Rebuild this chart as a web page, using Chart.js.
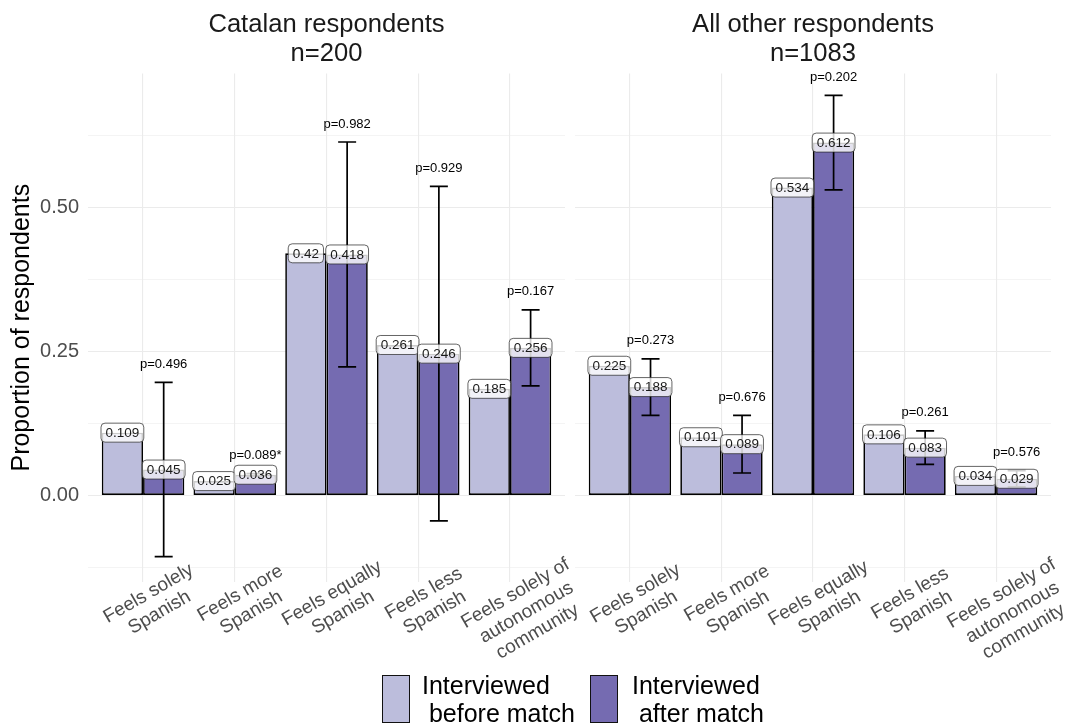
<!DOCTYPE html>
<html>
<head>
<meta charset="utf-8">
<script src="https://cdn.jsdelivr.net/npm/chart.js@4.4.1/dist/chart.umd.min.js"></script>
<style>
  html, body { margin: 0; padding: 0; background: #fff; }
  #wrap { position: relative; width: 1065px; height: 726px; overflow: hidden;
          font-family: "Liberation Sans", Arial, Helvetica, sans-serif; }
  canvas { position: absolute; top: 0; }
  #c1 { left: 0; }
  #c2 { left: 570px; }
  .key { position: absolute; top: 675px; width: 28px; height: 48px;
         box-sizing: border-box; border: 1.6px solid #111; }
  .lab { position: absolute; top: 671px; font-size: 25px; line-height: 28px;
         color: #000; white-space: pre; }
</style>
</head>
<body>
<div id="wrap">
  <canvas id="c1" width="630" height="726"></canvas>
  <canvas id="c2" width="495" height="726"></canvas>
  <div id="legend"></div>
</div>
<script>
// Identity categories (x axis) and panel headings
const categories = [
  ['Feels solely', 'Spanish'],
  ['Feels more', 'Spanish'],
  ['Feels equally', 'Spanish'],
  ['Feels less', 'Spanish'],
  ['Feels solely of', 'autonomous', 'community']
];
const panelTitles = [['Catalan respondents', 'n=200'], ['All other respondents', 'n=1083']];
const seriesNames = [['Interviewed', ' before match'], ['Interviewed', ' after match']];
const seriesColors = ['#bcbddc', '#756bb1'];

// Catalan respondents
const catalanBefore = [0.109, 0.025, 0.42, 0.261, 0.185];
const catalanAfter  = [0.045, 0.036, 0.418, 0.246, 0.256];
const catalanLow    = [-0.106, 0.034, 0.223, -0.044, 0.190];
const catalanHigh   = [0.196, 0.038, 0.613, 0.536, 0.322];
const catalanP      = ['p=0.496', 'p=0.089*', 'p=0.982', 'p=0.929', 'p=0.167'];

// All other respondents
const otherBefore = [0.225, 0.101, 0.534, 0.106, 0.034];
const otherAfter  = [0.188, 0.089, 0.612, 0.083, 0.029];
const otherLow    = [0.139, 0.039, 0.530, 0.054, 0.015];
const otherHigh   = [0.237, 0.139, 0.694, 0.112, 0.043];
const otherP      = ['p=0.273', 'p=0.676', 'p=0.202', 'p=0.261', 'p=0.576'];

// Y axis: labelled ticks and range
const yTicksMajor = [0, 0.25, 0.5];
const yMin = -0.15, yMax = 0.732;

const FONT = '"Liberation Sans", Arial, Helvetica, sans-serif';
Chart.defaults.font.family = FONT;

const isMajor = v => yTicksMajor.some(t => Math.abs(t - v) < 1e-9);

function roundRectPath(ctx, x, y, w, h, r) {
  ctx.beginPath();
  ctx.moveTo(x + r, y);
  ctx.lineTo(x + w - r, y);
  ctx.arcTo(x + w, y, x + w, y + r, r);
  ctx.lineTo(x + w, y + h - r);
  ctx.arcTo(x + w, y + h, x + w - r, y + h, r);
  ctx.lineTo(x + r, y + h);
  ctx.arcTo(x, y + h, x, y + h - r, r);
  ctx.lineTo(x, y + r);
  ctx.arcTo(x, y, x + r, y, r);
  ctx.closePath();
}

// Error bars, value labels and p-values drawn on top of the bars
const overlayPlugin = {
  id: 'overlay',
  afterDatasetsDraw(chart, args, opts) {
    const ctx = chart.ctx;
    const y = chart.scales.y;
    const metas = [chart.getDatasetMeta(0), chart.getDatasetMeta(1)];
    const values = [chart.data.datasets[0].data, chart.data.datasets[1].data];
    ctx.save();

    // confidence intervals on the after-match bars
    ctx.strokeStyle = '#000';
    ctx.lineWidth = 1.7;
    metas[1].data.forEach((bar, i) => {
      const x = bar.x;
      const yl = y.getPixelForValue(opts.low[i]);
      const yh = y.getPixelForValue(opts.high[i]);
      ctx.beginPath();
      ctx.moveTo(x, yl); ctx.lineTo(x, yh);
      ctx.moveTo(x - 9, yl); ctx.lineTo(x + 9, yl);
      ctx.moveTo(x - 9, yh); ctx.lineTo(x + 9, yh);
      ctx.stroke();
    });

    // value labels centred on each bar top
    ctx.font = '13.5px ' + FONT;
    ctx.textAlign = 'center';
    ctx.textBaseline = 'middle';
    for (let i = 0; i < categories.length; i++) {
      for (let s = 0; s < 2; s++) {
        const bar = metas[s].data[i];
        const v = values[s][i];
        const txt = String(v);
        const w = ctx.measureText(txt).width + 9;
        const h = 19;
        const cy = y.getPixelForValue(v);
        roundRectPath(ctx, bar.x - w / 2, cy - h / 2, w, h, 4);
        ctx.fillStyle = 'rgba(255,255,255,0.8)';
        ctx.fill();
        ctx.lineWidth = 0.7;
        ctx.strokeStyle = '#222';
        ctx.stroke();
        ctx.fillStyle = '#1a1a1a';
        ctx.fillText(txt, bar.x, cy + 0.5);
      }
    }

    // p-values above the upper whisker
    ctx.font = '13px ' + FONT;
    ctx.fillStyle = '#000';
    metas[1].data.forEach((bar, i) => {
      const yh = y.getPixelForValue(opts.high[i]);
      ctx.fillText(opts.p[i], bar.x, yh - 18);
    });
    ctx.restore();
  }
};

// Category names under the x axis, tilted 30 degrees, lines centred
const xLabelPlugin = {
  id: 'xlabels',
  afterDraw(chart) {
    const ctx = chart.ctx;
    const x = chart.scales.x;
    const ang = -Math.PI / 6;
    const lh = 22;
    const px = -Math.sin(ang), py = Math.cos(ang); // downward normal of the text
    ctx.save();
    ctx.font = '19px ' + FONT;
    ctx.fillStyle = '#4d4d4d';
    ctx.textAlign = 'center';
    ctx.textBaseline = 'middle';
    x.ticks.forEach((t, i) => {
      const ax = x.getPixelForTick(i);
      const ay = chart.chartArea.bottom + 2;
      const lines = [].concat(chart.data.labels[i]);
      lines.forEach((line, k) => {
        const d = (k + 0.5) * lh;
        ctx.save();
        ctx.translate(ax + px * d, ay + py * d);
        ctx.rotate(ang);
        ctx.fillText(line, 0, 0);
        ctx.restore();
      });
    });
    ctx.restore();
  }
};

function makePanel(id, title, before, after, low, high, pvals, first) {
  return new Chart(document.getElementById(id), {
    type: 'bar',
    data: {
      labels: categories,
      datasets: [
        { label: seriesNames[0].join(''), data: before, backgroundColor: seriesColors[0],
          borderColor: '#000', borderWidth: 1.7, borderSkipped: false,
          categoryPercentage: 0.9, barPercentage: 1.0 },
        { label: seriesNames[1].join(''), data: after, backgroundColor: seriesColors[1],
          borderColor: '#000', borderWidth: 1.7, borderSkipped: false,
          categoryPercentage: 0.9, barPercentage: 1.0 }
      ]
    },
    options: {
      responsive: false,
      animation: false,
      events: [],
      // left canvas is wider than its panel so tilted labels can run past the panel edge
      layout: { padding: first ? { left: 0, right: 65, top: 0, bottom: 0 }
                               : { left: 5, right: 14, top: 0, bottom: 0 } },
      plugins: {
        legend: { display: false },
        tooltip: { enabled: false },
        title: {
          display: true, text: title, fullSize: false,
          font: { size: 25.6, weight: 'normal', lineHeight: 1.15 },
          color: '#1a1a1a', padding: { top: 10, bottom: 4.5 }
        },
        overlay: { low: low, high: high, p: pvals }
      },
      scales: {
        x: {
          type: 'category',
          offset: true,
          grid: { offset: false, drawTicks: false, color: '#ebebeb', lineWidth: 1.1 },
          border: { display: false },
          ticks: { display: false, autoSkip: false },
          // discrete axis with 0.6 of a category of space at either end
          afterBuildTicks(s) { s._startValue = -0.6; s._valueRange = categories.length + 0.2; },
          afterFit(s) { s.height = 144; }
        },
        y: {
          type: 'linear',
          min: yMin, max: yMax,
          ticks: {
            display: first,
            stepSize: 0.125, includeBounds: false,
            callback: v => isMajor(v) ? v.toFixed(2) : '',
            font: { size: 20 }, color: '#4d4d4d', padding: 9
          },
          grid: {
            drawTicks: false, color: '#ebebeb',
            lineWidth: c => isMajor(c.tick.value) ? 1.1 : 0.55
          },
          border: { display: false },
          title: {
            display: first, text: 'Proportion of respondents',
            font: { size: 25 }, color: '#000', padding: { top: 7, bottom: 0 }
          },
          afterFit(s) { s.width = first ? 88 : 0; }
        }
      }
    },
    plugins: [overlayPlugin, xLabelPlugin]
  });
}

makePanel('c1', panelTitles[0], catalanBefore, catalanAfter, catalanLow, catalanHigh, catalanP, true);
makePanel('c2', panelTitles[1], otherBefore, otherAfter, otherLow, otherHigh, otherP, false);

// Legend
const legend = document.getElementById('legend');
const keyLeft = [382, 590], textLeft = [422, 632];
seriesNames.forEach((name, i) => {
  const k = document.createElement('div');
  k.className = 'key';
  k.style.left = keyLeft[i] + 'px';
  k.style.background = seriesColors[i];
  legend.appendChild(k);
  const t = document.createElement('div');
  t.className = 'lab';
  t.style.left = textLeft[i] + 'px';
  t.textContent = name.join('\n');
  legend.appendChild(t);
});
</script>
</body>
</html>
